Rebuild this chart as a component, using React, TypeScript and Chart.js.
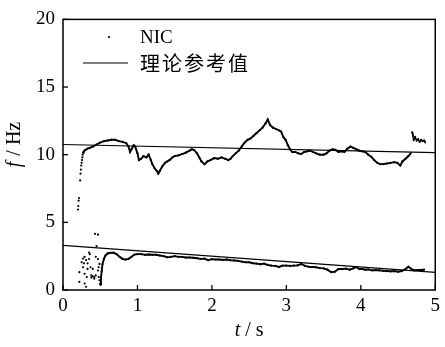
import React, { useEffect, useRef } from "react";
import { Chart, registerables } from "chart.js";

Chart.register(...registerables);

// x ticks (t / s) and y ticks (f / Hz)
const xTicks = [0, 1, 2, 3, 4, 5];
const yTicks = [0, 5, 10, 15, 20];

// theoretical reference lines [t, f]
const refUpper: [number, number][] = [[0, 10.75], [5, 10.15]];
const refLower: [number, number][] = [[0, 3.3], [5, 1.3]];

// NIC scattered dots (start-up rise of upper track)
const nicRiseDots: [number, number][] = [
  [0.2, 5.95], [0.205, 6.2], [0.21, 6.6], [0.215, 6.8], [0.23, 8.1], [0.235, 8.6],
  [0.24, 8.9], [0.245, 9.2], [0.25, 9.4], [0.255, 9.6], [0.26, 9.8], [0.265, 10.0],
];

// NIC scattered dots (start-up cloud of lower track)
const nicCloudDots: [number, number][] = [
  [0.29, 2.45], [0.27, 2.33], [0.31, 2.21], [0.25, 2.05], [0.28, 1.97], [0.33, 1.97],
  [0.36, 2.65], [0.35, 2.77], [0.22, 1.32], [0.29, 1.2], [0.38, 1.08], [0.4, 1.01],
  [0.42, 0.96], [0.44, 1.08], [0.37, 1.68], [0.33, 1.56], [0.47, 1.44], [0.48, 1.68],
  [0.49, 1.93], [0.47, 2.29], [0.44, 2.45], [0.45, 3.25], [0.47, 4.09], [0.22, 0.6],
  [0.29, 0.48], [0.31, 0.24], [0.49, 0.72], [0.5, 0.48], [0.48, 0.96], [0.42, 0.84],
  [0.38, 0.92], [0.4, 1.56], [0.32, 0.96], [0.27, 1.68], [0.35, 2.29], [0.43, 4.15],
];

// NIC upper track
const nicUpper: [number, number][] = [
  [0.27, 10.15], [0.28, 10.25], [0.3, 10.35], [0.33, 10.45], [0.36, 10.5], [0.4, 10.6],
  [0.45, 10.75], [0.5, 10.9], [0.55, 11.0], [0.6, 11.05], [0.65, 11.1], [0.7, 11.1],
  [0.75, 11.0], [0.8, 10.95], [0.85, 10.85], [0.88, 10.6], [0.9, 10.2], [0.92, 10.4],
  [0.95, 10.7], [0.97, 10.6], [1.0, 10.1], [1.02, 9.6], [1.05, 9.7], [1.08, 9.9],
  [1.12, 9.8], [1.15, 10.0], [1.18, 9.6], [1.2, 9.3], [1.23, 9.0], [1.26, 8.8],
  [1.28, 8.6], [1.3, 8.8], [1.33, 9.1], [1.37, 9.4], [1.4, 9.5], [1.43, 9.6],
  [1.47, 9.8], [1.5, 9.9], [1.55, 9.95], [1.6, 10.05], [1.65, 10.15], [1.7, 10.3],
  [1.73, 10.4], [1.76, 10.35], [1.8, 10.1], [1.83, 9.8], [1.86, 9.5], [1.9, 9.3],
  [1.94, 9.5], [1.98, 9.6], [2.03, 9.75], [2.08, 9.7], [2.13, 9.8], [2.18, 9.7],
  [2.22, 9.6], [2.25, 9.7], [2.28, 9.9], [2.32, 10.1], [2.36, 10.3], [2.4, 10.6],
  [2.44, 10.9], [2.48, 11.1], [2.52, 11.2], [2.56, 11.4], [2.6, 11.6], [2.64, 11.8],
  [2.68, 12.0], [2.72, 12.3], [2.75, 12.6], [2.78, 12.2], [2.82, 12.0], [2.86, 11.9],
  [2.9, 11.8], [2.93, 11.7], [2.96, 11.3], [2.99, 11.1], [3.02, 10.7], [3.05, 10.4],
  [3.08, 10.2], [3.12, 10.2], [3.16, 10.1], [3.2, 10.05], [3.24, 10.2], [3.28, 10.25],
  [3.32, 10.3], [3.36, 10.2], [3.4, 10.1], [3.45, 10.0], [3.5, 10.0], [3.54, 10.1],
  [3.58, 10.3], [3.62, 10.4], [3.66, 10.35], [3.7, 10.2], [3.74, 10.25], [3.78, 10.2],
  [3.82, 10.45], [3.86, 10.6], [3.9, 10.5], [3.94, 10.4], [3.98, 10.3], [4.02, 10.25],
  [4.06, 10.2], [4.1, 10.0], [4.14, 9.85], [4.18, 9.6], [4.22, 9.4], [4.26, 9.3],
  [4.3, 9.3], [4.35, 9.35], [4.4, 9.4], [4.45, 9.45], [4.49, 9.4], [4.53, 9.2],
  [4.56, 9.5], [4.6, 9.7], [4.64, 9.9], [4.67, 10.1],
];

// NIC upper track tail cluster
const nicUpperTail: [number, number][] = [
  [4.69, 11.65], [4.7, 11.4], [4.71, 11.1], [4.73, 11.3], [4.75, 11.05], [4.77, 11.15],
  [4.79, 10.95], [4.81, 11.1], [4.83, 11.0], [4.85, 11.05], [4.86, 10.95],
];

// NIC lower track
const nicLower: [number, number][] = [
  [0.5, 0.4], [0.51, 0.9], [0.52, 1.4], [0.53, 1.9], [0.55, 2.3], [0.57, 2.55],
  [0.6, 2.7], [0.64, 2.75], [0.68, 2.75], [0.72, 2.65], [0.76, 2.45], [0.8, 2.3],
  [0.84, 2.25], [0.88, 2.3], [0.92, 2.45], [0.96, 2.62], [1.0, 2.65], [1.05, 2.65],
  [1.1, 2.6], [1.15, 2.62], [1.2, 2.6], [1.25, 2.6], [1.3, 2.55], [1.35, 2.5],
  [1.4, 2.42], [1.45, 2.45], [1.5, 2.5], [1.55, 2.45], [1.6, 2.45], [1.65, 2.4],
  [1.7, 2.4], [1.75, 2.38], [1.8, 2.35], [1.85, 2.3], [1.9, 2.32], [1.95, 2.2],
  [2.0, 2.28], [2.05, 2.25], [2.1, 2.25], [2.15, 2.22], [2.2, 2.25], [2.25, 2.2],
  [2.3, 2.18], [2.35, 2.15], [2.4, 2.1], [2.45, 2.05], [2.5, 2.05], [2.55, 1.98],
  [2.6, 1.95], [2.65, 1.9], [2.7, 1.95], [2.75, 1.85], [2.8, 1.8], [2.85, 1.78],
  [2.9, 1.7], [2.95, 1.8], [3.0, 1.8], [3.05, 1.78], [3.1, 1.8], [3.15, 1.82],
  [3.2, 1.92], [3.25, 1.78], [3.3, 1.72], [3.35, 1.7], [3.4, 1.68], [3.45, 1.62],
  [3.5, 1.6], [3.55, 1.5], [3.6, 1.32], [3.65, 1.35], [3.7, 1.55], [3.75, 1.55],
  [3.8, 1.58], [3.85, 1.5], [3.9, 1.6], [3.94, 1.7], [3.98, 1.55], [4.02, 1.55],
  [4.06, 1.5], [4.1, 1.52], [4.15, 1.45], [4.2, 1.48], [4.25, 1.45], [4.3, 1.42],
  [4.35, 1.4], [4.4, 1.38], [4.45, 1.4], [4.5, 1.35], [4.55, 1.4], [4.6, 1.55],
  [4.64, 1.72], [4.68, 1.55], [4.72, 1.45], [4.76, 1.48], [4.8, 1.48], [4.85, 1.5],
];

const legendNic = "NIC";
const legendRef = "理论参考值";
const xTitleVar = "t";
const xTitleUnit = " / s";
const yTitleVar = "f";
const yTitleUnit = " / Hz";

const SERIF = '"Liberation Serif", "Times New Roman", serif';
const CJK = '"Noto Sans CJK SC", sans-serif';

const toXY = (arr: [number, number][]) => arr.map(([x, y]) => ({ x, y }));

export default function App() {
  const ref = useRef<HTMLCanvasElement | null>(null);

  useEffect(() => {
    if (!ref.current) return;

    const framePlugin = {
      id: "frame",
      afterDraw(chart: any) {
        const { ctx, chartArea: a, scales } = chart;
        const xs = scales.x;
        const ys = scales.y;
        ctx.save();
        ctx.strokeStyle = "#000";
        ctx.lineWidth = 1.5;
        ctx.strokeRect(a.left, a.top, a.right - a.left, a.bottom - a.top);
        // inward ticks
        ctx.lineWidth = 1.3;
        xTicks.forEach((v) => {
          const px = xs.getPixelForValue(v);
          ctx.beginPath();
          ctx.moveTo(px, a.bottom);
          ctx.lineTo(px, a.bottom - 5);
          ctx.stroke();
        });
        yTicks.forEach((v) => {
          const py = ys.getPixelForValue(v);
          ctx.beginPath();
          ctx.moveTo(a.left, py);
          ctx.lineTo(a.left + 5, py);
          ctx.stroke();
        });
        // axis titles
        ctx.fillStyle = "#000";
        ctx.textBaseline = "middle";
        const cx = (a.left + a.right) / 2;
        ctx.font = `italic 20px ${SERIF}`;
        const w1 = ctx.measureText(xTitleVar).width;
        ctx.font = `20px ${SERIF}`;
        const w2 = ctx.measureText(xTitleUnit).width;
        let sx = cx - (w1 + w2) / 2;
        ctx.textAlign = "left";
        ctx.font = `italic 20px ${SERIF}`;
        ctx.fillText(xTitleVar, sx, 331);
        ctx.font = `20px ${SERIF}`;
        ctx.fillText(xTitleUnit, sx + w1, 331);

        ctx.save();
        ctx.translate(15, 145);
        ctx.rotate(-Math.PI / 2);
        ctx.font = `italic 20px ${SERIF}`;
        const v1 = ctx.measureText(yTitleVar).width;
        ctx.font = `20px ${SERIF}`;
        const v2 = ctx.measureText(yTitleUnit).width;
        sx = -(v1 + v2) / 2;
        ctx.font = `italic 20px ${SERIF}`;
        ctx.fillText(yTitleVar, sx, 0);
        ctx.font = `20px ${SERIF}`;
        ctx.fillText(yTitleUnit, sx + v1 + 1, 0);
        ctx.restore();

        // legend
        ctx.beginPath();
        ctx.arc(109, 37, 1.1, 0, Math.PI * 2);
        ctx.fill();
        ctx.font = `19px ${SERIF}`;
        ctx.fillText(legendNic, 140, 38);
        ctx.lineWidth = 1.2;
        ctx.beginPath();
        ctx.moveTo(83, 63);
        ctx.lineTo(128, 63);
        ctx.stroke();
        ctx.font = `20px ${CJK}`;
        (ctx as any).letterSpacing = "2px";
        ctx.fillText(legendRef, 140, 63);
        ctx.restore();
      },
    };

    const lineDs = (data: [number, number][], w: number, r: number) => ({
      data: toXY(data),
      showLine: true,
      borderColor: "#000",
      backgroundColor: "#000",
      borderWidth: w,
      pointRadius: r,
      pointBorderWidth: 0,
      tension: 0,
    });
    const dotDs = (data: [number, number][]) => ({
      data: toXY(data),
      showLine: false,
      backgroundColor: "#000",
      borderColor: "#000",
      pointRadius: 1.1,
      pointBorderWidth: 0,
    });

    const chart = new Chart(ref.current, {
      type: "scatter",
      data: {
        datasets: [
          { label: legendRef, ...lineDs(refUpper, 1.1, 0) },
          { label: legendRef, ...lineDs(refLower, 1.1, 0) },
          { label: legendNic, ...dotDs(nicRiseDots) },
          { label: legendNic, ...dotDs(nicCloudDots) },
          { label: legendNic, ...lineDs(nicUpper, 1.9, 1.1) },
          { label: legendNic, ...lineDs(nicUpperTail, 1.4, 1.1) },
          { label: legendNic, ...lineDs(nicLower, 1.9, 1.1) },
        ] as any,
      },
      options: {
        animation: false,
        responsive: false,
        devicePixelRatio: 1,
        layout: { padding: { top: 13, right: 3, left: 0, bottom: 0 } },
        plugins: { legend: { display: false }, tooltip: { enabled: false } },
        scales: {
          x: {
            type: "linear",
            min: 0,
            max: 5,
            afterFit: (s: any) => {
              s.height = 57;
            },
            afterBuildTicks: (s: any) => {
              s.ticks = xTicks.map((v) => ({ value: v }));
            },
            grid: { display: false, drawTicks: false },
            border: { display: false },
            ticks: {
              padding: 5,
              color: "#000",
              font: { family: SERIF, size: 19 },
              maxRotation: 0,
            },
          },
          y: {
            type: "linear",
            min: 0,
            max: 20,
            afterFit: (s: any) => {
              s.width = 63;
            },
            afterBuildTicks: (s: any) => {
              s.ticks = yTicks.map((v) => ({ value: v }));
            },
            grid: { display: false, drawTicks: false },
            border: { display: false },
            ticks: {
              padding: 8,
              color: "#000",
              font: { family: SERIF, size: 19 },
            },
          },
        },
      },
      plugins: [framePlugin],
    });

    return () => chart.destroy();
  }, []);

  return (
    <div style={{ position: "absolute", left: 0, top: 0, width: 445, height: 347, background: "#fff" }}>
      <canvas ref={ref} width={445} height={347} style={{ width: 445, height: 347 }} />
    </div>
  );
}
